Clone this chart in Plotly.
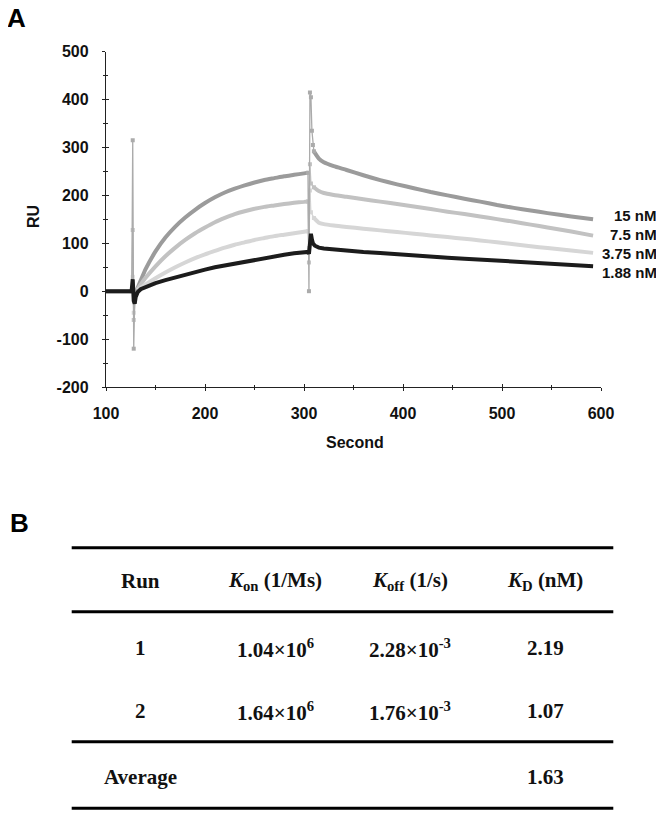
import plotly.graph_objects as go

WIN_W, WIN_H = 664, 815
OFF = 8                       # page margin of the html body
W, H = WIN_W - OFF, WIN_H - OFF

# ---------------- data ----------------
series_names = ["15 nM", "7.5 nM", "3.75 nM", "1.88 nM"]
series_colors = ["#9b9b9b", "#c2c2c2", "#d6d6d6", "#1c1c1c"]

# 15 nM
t_15 = [100, 126, 130, 135, 140, 150, 160, 170, 180, 190, 200, 210, 220, 230, 240, 250, 260, 270, 280, 290, 300, 304,
        None,
        310, 315, 320, 330, 343, 360, 377, 394, 411, 428, 445, 462, 478, 495, 512, 529, 546, 570, 592]
ru_15 = [0, 0, 0, 22, 46, 83, 112, 135, 154, 170, 184, 196, 206, 214, 221, 227, 232, 236, 240, 243, 246, 247.5,
         None,
         292, 277, 269, 261, 253, 242, 232, 223, 215, 207, 200, 193, 187, 180, 174, 168.5, 163, 156, 150]

# 7.5 nM
t_75 = [100, 126, 130, 135, 140, 150, 160, 170, 180, 190, 200, 210, 220, 230, 240, 250, 260, 270, 280, 290, 300, 304,
        None,
        310, 315, 320, 330, 343, 360, 377, 394, 411, 428, 445, 462, 478, 495, 512, 529, 546, 570, 592]
ru_75 = [0, 0, 0, 14, 28, 52, 73, 91, 107, 121, 133, 144, 153, 161, 167, 172, 176, 179, 182, 184.5, 186.5, 187.5,
         None,
         217, 209, 205, 201, 197, 192, 187, 182, 177, 171.5, 166, 161, 156, 150.5, 145, 139, 133, 124.5, 116]

# 3.75 nM
t_375 = [100, 126, 130, 135, 140, 150, 160, 170, 180, 190, 200, 210, 220, 230, 240, 250, 260, 270, 280, 290, 300, 304,
         None,
         310, 315, 320, 330, 343, 360, 377, 394, 411, 428, 445, 462, 478, 495, 512, 529, 546, 570, 592]
ru_375 = [0, 0, 0, 7, 14, 27, 39, 50, 60, 69, 77, 84, 91, 97, 102, 107, 111, 115, 118, 121, 124, 125,
          None,
          153, 143, 140, 137, 134, 130.5, 127, 123.5, 120, 116.5, 113, 109.5, 106, 102, 98, 94, 90, 85, 80]

# 1.88 nM
t_188 = [100, 125, 126, 127, 128, 129, 130, 132, 135, 140, 145, 150, 160, 170, 180, 190, 200, 210, 220, 230, 240,
         250, 260, 270, 280, 290, 300, 304, 305, 306, 307, 308, 309, 311, 315, 320, 330, 343, 360, 377, 394, 411,
         428, 445, 462, 478, 495, 512, 529, 546, 570, 592]
ru_188 = [0, 0, 3, 25, -20, -26, -12, -2, 4, 9, 13, 17, 23, 29, 35, 40, 45, 50, 54, 58, 62,
          66, 70, 73, 76, 79, 81, 82, 78, 95, 120, 108, 100, 95, 91, 89, 87, 85, 82, 80, 77, 75,
          73, 70, 68, 66, 63, 61, 59, 57, 54, 52]

# injection / end-of-injection spikes (thin segments)
spike_t_15 = [126, 127, 128, 129, 130, None, 304, 305, 306, 307, 308, 309, 310]
spike_ru_15 = [0, 315, -120, -20, 0, None, 247.5, 0, 415, 405, 335, 305, 292]
spike_t_75 = [126, 127, 128, 130, None, 304, 305, 306, 307, 310]
spike_ru_75 = [0, 128, -60, 0, None, 187.5, 60, 265, 225, 217]
spike_t_375 = [126, 127, 128, 130, None, 304, 305, 306, 307, 310]
spike_ru_375 = [0, 30, -45, 0, None, 125, 90, 210, 165, 153]

label_ru = [158, 118, 79, 39]   # y position of right-hand labels (RU)

x_ticks = [100, 200, 300, 400, 500, 600]
x_tick_labels = ["100", "200", "300", "400", "500", "600"]
y_ticks = [-200, -100, 0, 100, 200, 300, 400, 500]
y_tick_labels = ["-200", "-100", "0", "100", "200", "300", "400", "500"]

# table B
table_header = ["Run", "<i>K</i><sub>on</sub> (1/Ms)", "<i>K</i><sub>off</sub> (1/s)", "<i>K</i><sub>D</sub> (nM)"]
table_runs = ["1", "2"]
table_kon = ["1.04×10<sup>6</sup>", "1.64×10<sup>6</sup>"]
table_koff = ["2.28×10<sup>-3</sup>", "1.76×10<sup>-3</sup>"]
table_kd = ["2.19", "1.07"]
table_avg_label = "Average"
table_avg_kd = "1.63"

# ---------------- helpers (window pixel -> paper) ----------------
def px(x):
    return (x - OFF) / W

def py(y):
    return 1 - (y - OFF) / H

SANS = "Liberation Sans, Arial, sans-serif"
SERIF = "Liberation Serif, Times New Roman, serif"

fig = go.Figure()

main_t = [t_15, t_75, t_375]
main_ru = [ru_15, ru_75, ru_375]
for i in range(3):
    fig.add_trace(go.Scatter(x=main_t[i], y=main_ru[i], mode="lines",
                             line=dict(color=series_colors[i], width=4, shape="spline", smoothing=0.6),
                             name=series_names[i], showlegend=False, hoverinfo="skip"))

spk_t = [spike_t_375, spike_t_75, spike_t_15]
spk_ru = [spike_ru_375, spike_ru_75, spike_ru_15]
spk_col = [series_colors[2], series_colors[1], "#ababab"]
for i in range(3):
    fig.add_trace(go.Scatter(x=spk_t[i], y=spk_ru[i], mode="lines+markers",
                             line=dict(color=spk_col[i], width=1.3),
                             marker=dict(symbol="square", size=4, color=spk_col[i]),
                             showlegend=False, hoverinfo="skip"))

fig.add_trace(go.Scatter(x=t_188, y=ru_188, mode="lines",
                         line=dict(color=series_colors[3], width=4),
                         name=series_names[3], showlegend=False, hoverinfo="skip"))

# empty trace bound to the overlay axes (used only for inward tick marks)
fig.add_trace(go.Scatter(x=[], y=[], xaxis="x2", yaxis="y2", showlegend=False, hoverinfo="skip"))

x0d, x1d = 106, 601
y0d, y1d = 387, 51.7

axis_common = dict(showgrid=False, zeroline=False, showline=True, linecolor="#222222", linewidth=1.3,
                   ticks="outside", ticklen=3, tickwidth=1.3, tickcolor="#222222",
                   tickfont=dict(family=SANS, size=16, color="#111111", weight="bold"),
                   automargin=False)
inner_common = dict(showgrid=False, zeroline=False, showline=False, showticklabels=False,
                    ticks="inside", ticklen=3, tickwidth=1.3, tickcolor="#222222", automargin=False)

fig.update_layout(
    width=W, height=H,
    margin=dict(l=0, r=0, t=0, b=0),
    paper_bgcolor="white", plot_bgcolor="white",
    xaxis=dict(range=[100, 600], tickvals=x_ticks, ticktext=x_tick_labels, domain=[px(x0d), px(x1d)],
               minor=dict(tickvals=[150, 250, 350, 450, 550], ticks="outside", ticklen=2,
                          tickcolor="#222222", tickwidth=1.2),
               ticklabelstandoff=9, **axis_common),
    yaxis=dict(range=[-200, 500], tickvals=y_ticks, ticktext=y_tick_labels, domain=[py(y0d), py(y1d)],
               minor=dict(tickvals=[-150, -50, 50, 150, 250, 350, 450], ticks="outside", ticklen=2,
                          tickcolor="#222222", tickwidth=1.2),
               ticklabelstandoff=10, **axis_common),
    xaxis2=dict(range=[100, 600], tickvals=x_ticks, overlaying="x", anchor="y2", side="bottom",
                minor=dict(tickvals=[150, 250, 350, 450, 550], ticks="inside", ticklen=2,
                           tickcolor="#222222", tickwidth=1.2),
                **inner_common),
    yaxis2=dict(range=[-200, 500], tickvals=y_ticks, overlaying="y", anchor="x2", side="left",
                minor=dict(tickvals=[-150, -50, 50, 150, 250, 350, 450], ticks="inside", ticklen=2,
                           tickcolor="#222222", tickwidth=1.2),
                **inner_common),
    showlegend=False,
)

ann = []
# panel letters
ann.append(dict(x=px(16), y=py(18), text="A", font=dict(family=SANS, size=26, color="black", weight="bold")))
ann.append(dict(x=px(19), y=py(523), text="B", font=dict(family=SANS, size=26, color="black", weight="bold")))
# axis titles
ann.append(dict(x=px(33), y=py(217), text="RU", textangle=-90,
                font=dict(family=SANS, size=16, color="#111111", weight="bold")))
ann.append(dict(x=px(355), y=py(442), text="Second",
                font=dict(family=SANS, size=16, color="#111111", weight="bold")))
# series labels
for name, yv in zip(series_names, label_ru):
    ann.append(dict(x=px(659), xref="paper", y=yv, yref="y", text=name, xanchor="right",
                    font=dict(family=SANS, size=15, color="#111111", weight="bold")))

# table
col_x = [140, 275, 410, 545]
row_y = [581, 648, 711, 777]
tfont = dict(family=SERIF, size=21, color="#111111", weight="bold")
for cx, txt in zip(col_x, table_header):
    ann.append(dict(x=px(cx), y=py(row_y[0]), text=txt, font=tfont))
for r in range(2):
    vals = [table_runs[r], table_kon[r], table_koff[r], table_kd[r]]
    for cx, txt in zip(col_x, vals):
        ann.append(dict(x=px(cx), y=py(row_y[r + 1]), text=txt, font=tfont))
ann.append(dict(x=px(col_x[0]), y=py(row_y[3]), text=table_avg_label, font=tfont))
ann.append(dict(x=px(col_x[3]), y=py(row_y[3]), text=table_avg_kd, font=tfont))

for a in ann:
    a.setdefault("xref", "paper")
    a.setdefault("yref", "paper")
    a.setdefault("xanchor", "center")
    a.setdefault("yanchor", "middle")
    a["showarrow"] = False
fig.update_layout(annotations=ann)

shapes = []
for ly in [547.7, 611.7, 741.7, 808.3]:
    shapes.append(dict(type="line", xref="paper", yref="paper", x0=px(71.7), x1=px(613.3),
                       y0=py(ly), y1=py(ly), line=dict(color="black", width=3)))
fig.update_layout(shapes=shapes)

fig.write_html("out.html")
